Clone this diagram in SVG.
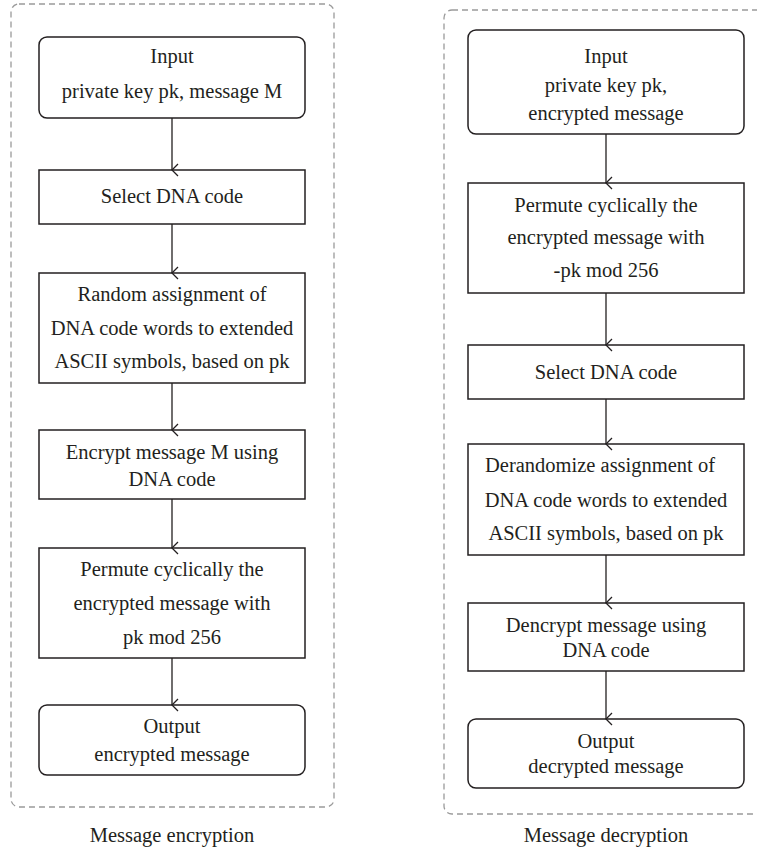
<svg xmlns="http://www.w3.org/2000/svg" width="757" height="850" viewBox="0 0 757 850" font-family="Liberation Serif, Times New Roman, serif">
<defs>
<style>
.frame{fill:none;stroke:#9a9a9a;stroke-width:1.3;stroke-dasharray:6 4}
.box{fill:#fff;stroke:#231f20;stroke-width:1.5}
.t{font-family:'Liberation Serif',serif;font-size:20.5px;fill:#231f20;text-anchor:middle}
.c{stroke:#231f20;stroke-width:1.3;fill:none}
</style>
<marker id="ah" markerWidth="14" markerHeight="10" refX="7" refY="8" orient="auto" markerUnits="userSpaceOnUse" viewBox="0 0 14 10">
<polyline points="1,2 7,8 13,2" fill="none" stroke="#231f20" stroke-width="1.3"/>
</marker>
</defs>
<rect width="757" height="850" fill="#fff"/>
<rect class="frame" x="11" y="4" width="323" height="803" rx="8"/>
<rect class="frame" x="444" y="10" width="330" height="804" rx="8"/>

<g id="enc-input">
<rect class="box" x="39" y="37" width="266" height="81" rx="8"/>
<text class="t" x="172" y="63">Input</text>
<text class="t" x="172" y="98">private key pk, message M</text>
</g>
<g id="enc-select">
<rect class="box" x="39" y="170" width="266" height="54"/>
<text class="t" x="172" y="203">Select DNA code</text>
</g>
<g id="enc-random">
<rect class="box" x="39" y="273" width="266" height="110"/>
<text class="t" x="172" y="301">Random assignment of</text>
<text class="t" x="172" y="335">DNA code words to extended</text>
<text class="t" x="172" y="368">ASCII symbols, based on pk</text>
</g>
<g id="enc-encrypt">
<rect class="box" x="39" y="430" width="266" height="69"/>
<text class="t" x="172" y="459">Encrypt message M using</text>
<text class="t" x="172" y="486">DNA code</text>
</g>
<g id="enc-permute">
<rect class="box" x="39" y="548" width="266" height="110"/>
<text class="t" x="172" y="576">Permute cyclically the</text>
<text class="t" x="172" y="610">encrypted message with</text>
<text class="t" x="172" y="644">pk mod 256</text>
</g>
<g id="enc-output">
<rect class="box" x="39" y="705" width="266" height="70" rx="8"/>
<text class="t" x="172" y="733">Output</text>
<text class="t" x="172" y="761">encrypted message</text>
</g>
<text class="t" x="172" y="842">Message encryption</text>

<g id="dec-input">
<rect class="box" x="468" y="30" width="276" height="104" rx="8"/>
<text class="t" x="606" y="63">Input</text>
<text class="t" x="606" y="92">private key pk,</text>
<text class="t" x="606" y="120">encrypted message</text>
</g>
<g id="dec-permute">
<rect class="box" x="468" y="183" width="276" height="110"/>
<text class="t" x="606" y="212">Permute cyclically the</text>
<text class="t" x="606" y="244">encrypted message with</text>
<text class="t" x="606" y="277">-pk mod 256</text>
</g>
<g id="dec-select">
<rect class="box" x="468" y="345" width="276" height="54"/>
<text class="t" x="606" y="379">Select DNA code</text>
</g>
<g id="dec-derand">
<rect class="box" x="468" y="444" width="276" height="111"/>
<text class="t" x="600" y="472">Derandomize assignment of</text>
<text class="t" x="606" y="507">DNA code words to extended</text>
<text class="t" x="606" y="540">ASCII symbols, based on pk</text>
</g>
<g id="dec-decrypt">
<rect class="box" x="468" y="603" width="276" height="68"/>
<text class="t" x="606" y="632">Dencrypt message using</text>
<text class="t" x="606" y="657">DNA code</text>
</g>
<g id="dec-output">
<rect class="box" x="468" y="719" width="276" height="69" rx="8"/>
<text class="t" x="606" y="748">Output</text>
<text class="t" x="606" y="773">decrypted message</text>
</g>
<text class="t" x="606" y="842">Message decryption</text>

<g id="connectors">
<line class="c" x1="172" y1="118" x2="172" y2="170" marker-end="url(#ah)"/>
<line class="c" x1="172" y1="224" x2="172" y2="273" marker-end="url(#ah)"/>
<line class="c" x1="172" y1="383" x2="172" y2="430" marker-end="url(#ah)"/>
<line class="c" x1="172" y1="499" x2="172" y2="548" marker-end="url(#ah)"/>
<line class="c" x1="172" y1="658" x2="172" y2="705" marker-end="url(#ah)"/>
<line class="c" x1="606" y1="134" x2="606" y2="183" marker-end="url(#ah)"/>
<line class="c" x1="606" y1="293" x2="606" y2="345" marker-end="url(#ah)"/>
<line class="c" x1="606" y1="399" x2="606" y2="444" marker-end="url(#ah)"/>
<line class="c" x1="606" y1="555" x2="606" y2="603" marker-end="url(#ah)"/>
<line class="c" x1="606" y1="671" x2="606" y2="719" marker-end="url(#ah)"/>
</g>
</svg>
